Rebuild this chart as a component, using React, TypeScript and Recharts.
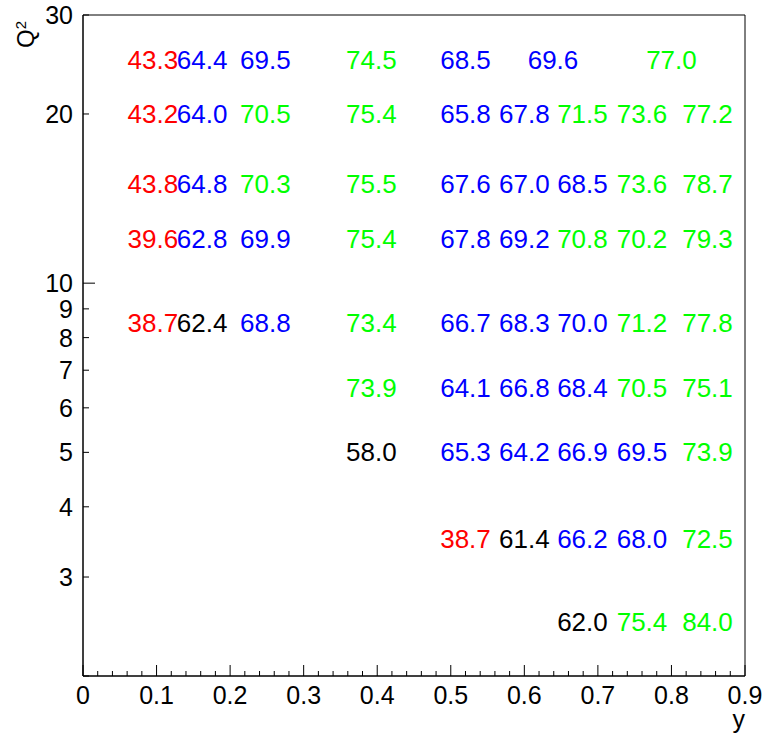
import { ScatterChart, Scatter, XAxis, YAxis, ReferenceArea } from "recharts";

const FONT = "'Liberation Sans', Arial, Helvetica, sans-serif";

// each cell: [y, Q2, value]
const redCells: [number, number, number][] = [
  [0.095, 25, 43.3],
  [0.095, 20, 43.2],
  [0.095, 15, 43.8],
  [0.095, 12, 39.6],
  [0.095, 8.5, 38.7],
  [0.52, 3.5, 38.7],
];

const blackCells: [number, number, number][] = [
  [0.162, 8.5, 62.4],
  [0.392, 5, 58.0],
  [0.6, 3.5, 61.4],
  [0.679, 2.5, 62.0],
];

const blueCells: [number, number, number][] = [
  [0.162, 25, 64.4], [0.248, 25, 69.5], [0.52, 25, 68.5], [0.639, 25, 69.6],
  [0.162, 20, 64.0], [0.52, 20, 65.8], [0.6, 20, 67.8],
  [0.162, 15, 64.8], [0.52, 15, 67.6], [0.6, 15, 67.0], [0.679, 15, 68.5],
  [0.162, 12, 62.8], [0.248, 12, 69.9], [0.52, 12, 67.8], [0.6, 12, 69.2],
  [0.248, 8.5, 68.8], [0.52, 8.5, 66.7], [0.6, 8.5, 68.3], [0.679, 8.5, 70.0],
  [0.52, 6.5, 64.1], [0.6, 6.5, 66.8], [0.679, 6.5, 68.4],
  [0.52, 5, 65.3], [0.6, 5, 64.2], [0.679, 5, 66.9], [0.76, 5, 69.5],
  [0.679, 3.5, 66.2], [0.76, 3.5, 68.0],
];

const greenCells: [number, number, number][] = [
  [0.392, 25, 74.5], [0.8, 25, 77.0],
  [0.248, 20, 70.5], [0.392, 20, 75.4], [0.679, 20, 71.5], [0.76, 20, 73.6], [0.849, 20, 77.2],
  [0.248, 15, 70.3], [0.392, 15, 75.5], [0.76, 15, 73.6], [0.849, 15, 78.7],
  [0.392, 12, 75.4], [0.679, 12, 70.8], [0.76, 12, 70.2], [0.849, 12, 79.3],
  [0.392, 8.5, 73.4], [0.76, 8.5, 71.2], [0.849, 8.5, 77.8],
  [0.392, 6.5, 73.9], [0.76, 6.5, 70.5], [0.849, 6.5, 75.1],
  [0.849, 5, 73.9],
  [0.849, 3.5, 72.5],
  [0.76, 2.5, 75.4], [0.849, 2.5, 84.0],
];

const xMajorTicks = [0, 0.1, 0.2, 0.3, 0.4, 0.5, 0.6, 0.7, 0.8, 0.9];
const xMinorOffsets = [0.02, 0.04, 0.06, 0.08];
const yTicks = [2, 3, 4, 5, 6, 7, 8, 9, 10, 20, 30];
const yLabelled = [3, 4, 5, 6, 7, 8, 9, 10, 20, 30];
const yMajor = [10];

const xTicks = [
  ...xMajorTicks,
  ...xMajorTicks.slice(0, -1).flatMap((m) => xMinorOffsets.map((o) => Math.round((m + o) * 100) / 100)),
];

const toPoints = (cells: [number, number, number][]) =>
  cells.map(([x, y, v]) => ({ x, y, label: v.toFixed(1) }));

const series = [
  { name: "red", color: "#ff0000", data: toPoints(redCells) },
  { name: "black", color: "#000000", data: toPoints(blackCells) },
  { name: "blue", color: "#0000ff", data: toPoints(blueCells) },
  { name: "green", color: "#00ff00", data: toPoints(greenCells) },
];

function XTick(props: any) {
  const { x, y, payload } = props;
  const major = xMajorTicks.includes(payload.value);
  return (
    <g>
      <line x1={x} x2={x} y1={y} y2={y - (major ? 11 : 5)} stroke="#000" />
      {major && (
        <text x={x} y={y + 19} textAnchor="middle" dominantBaseline="central" fontSize={25} fontFamily={FONT} fill="#000">
          {String(payload.value)}
        </text>
      )}
    </g>
  );
}

function YTick(props: any) {
  const { x, y, payload } = props;
  const major = yMajor.includes(payload.value);
  return (
    <g>
      <line x1={x} x2={x + (major ? 12 : 6)} y1={y} y2={y} stroke="#000" />
      {yLabelled.includes(payload.value) && (
        <text x={x - 10} y={y} textAnchor="end" dominantBaseline="central" fontSize={25} fontFamily={FONT} fill="#000">
          {String(payload.value)}
        </text>
      )}
    </g>
  );
}

function cellText(color: string) {
  return (p: any) => (
    <text x={p.cx} y={p.cy} textAnchor="middle" dominantBaseline="central" fontSize={26} fontFamily={FONT} fill={color}>
      {p.payload.label}
    </text>
  );
}

export default function App() {
  return (
    <div style={{ position: "absolute", left: 0, top: 0, background: "#fff" }}>
      <ScatterChart width={766} height={738} margin={{ top: 15, right: 21, bottom: 22, left: 23 }}>
        <XAxis
          type="number"
          dataKey="x"
          domain={[0, 0.9]}
          ticks={xTicks}
          interval={0}
          tickSize={0}
          tickMargin={0}
          tickLine={false}
          axisLine={{ stroke: "#000" }}
          height={40}
          tick={XTick}
          allowDataOverflow
          label={{
            content: () => (
              <text x={745} y={728} textAnchor="end" fontSize={25} fontFamily={FONT} fill="#000">
                y
              </text>
            ),
          }}
        />
        <YAxis
          type="number"
          dataKey="y"
          scale="log"
          domain={[2, 30]}
          ticks={yTicks}
          interval={0}
          tickSize={0}
          tickMargin={0}
          tickLine={false}
          axisLine={{ stroke: "#000" }}
          width={60}
          tick={YTick}
          allowDataOverflow
          label={{
            content: () => (
              <text transform="translate(34, 48) rotate(-90)" fontSize={24} fontFamily={FONT} fill="#000">
                Q<tspan dy={-8} fontSize={15}>2</tspan>
              </text>
            ),
          }}
        />
        <ReferenceArea x1={0} x2={0.9} y1={2} y2={30} fill="none" stroke="#000" strokeWidth={1} />
        {series.map((s) => (
          <Scatter key={s.name} name={s.name} data={s.data} shape={cellText(s.color)} isAnimationActive={false} />
        ))}
      </ScatterChart>
    </div>
  );
}
